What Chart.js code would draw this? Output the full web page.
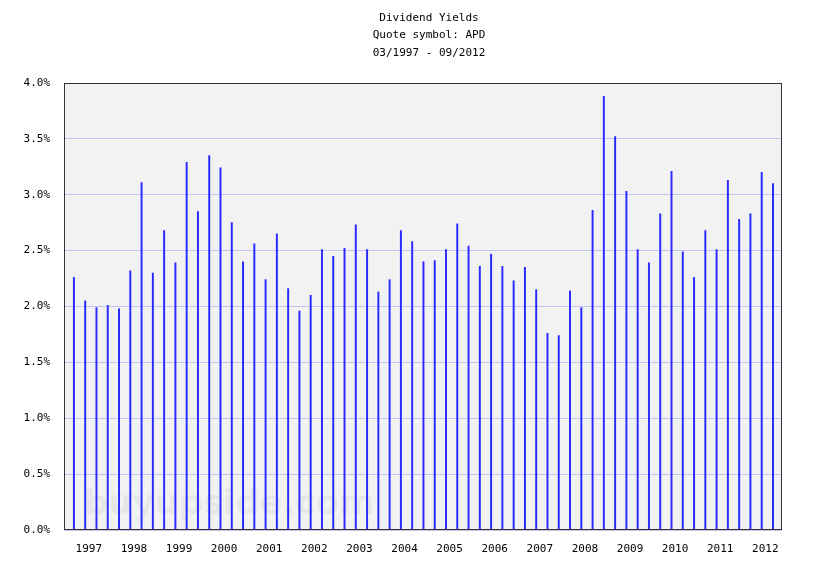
<!DOCTYPE html><html><head><meta charset="utf-8">
<script src="https://cdn.jsdelivr.net/npm/chart.js@4"></script>
<style>html,body{margin:0;background:#fff}#c{display:block}</style></head><body>
<canvas id="c" width="819" height="575"></canvas>
<script>
const startYear = 1997;
const yields = [2.26,2.05,1.99,2.01, 1.98,2.32,3.11,2.30, 2.68,2.39,3.29,2.85, 3.35,3.24,2.75,2.40,
 2.56,2.24,2.65,2.16, 1.96,2.10,2.51,2.45, 2.52,2.73,2.51,2.13, 2.24,2.68,2.58,2.40,
 2.41,2.51,2.74,2.54, 2.36,2.47,2.36,2.23, 2.35,2.15,1.76,1.74, 2.14,1.99,2.86,3.88,
 3.52,3.03,2.51,2.39, 2.83,3.21,2.49,2.26, 2.68,2.51,3.13,2.78, 2.83,3.20,3.10];
const yearLabels = ['1997','1998','1999','2000','2001','2002','2003','2004','2005','2006','2007','2008','2009','2010','2011','2012'];
const titleLines = ['Dividend Yields','Quote symbol: APD','03/1997 - 09/2012'];
const pts = yields.map((v,i)=>({x:startYear+i*0.25,y:v}));
const mono = 'DejaVu Sans Mono';
const bgPlugin = {id:'bg',beforeDraw(ch){const {ctx,chartArea:a}=ch;ctx.save();ctx.fillStyle='#f2f2f2';ctx.fillRect(a.left,a.top,a.right-a.left,a.bottom-a.top);
 ctx.font='bold 34px "DejaVu Sans"';ctx.fillStyle='rgba(205,205,205,0.3)';ctx.textBaseline='middle';ctx.fillText('buyupside.com',84,505);
 ctx.font='11px "'+mono+'"';ctx.fillStyle='#000';ctx.textAlign='center';ctx.textBaseline='middle';
 titleLines.forEach((t,i)=>ctx.fillText(t,429,18+i*17.5));ctx.restore();},
 afterDraw(ch){const {ctx,chartArea:a}=ch;ctx.save();ctx.strokeStyle='#333';ctx.lineWidth=1;ctx.strokeRect(a.left+0.5,a.top+0.5,a.right-a.left-1,a.bottom-a.top-1);ctx.restore();}};
new Chart(document.getElementById('c'),{type:'bar',
 data:{datasets:[{data:pts,backgroundColor:'#2a2aff',barThickness:1.3,grouped:false}]},
 options:{responsive:false,animation:false,events:[],
  layout:{padding:{left:0,right:37,top:83,bottom:0}},
  plugins:{legend:{display:false},tooltip:{enabled:false}},
  scales:{
   x:{type:'linear',min:1996.78,max:2012.70,offset:false,
     afterBuildTicks(ax){ax.ticks=yearLabels.map(y=>({value:+y+0.33}));},
     afterFit(ax){ax.height=45;},
     ticks:{callback:(v)=>String(Math.floor(v)),font:{family:mono,size:11},color:'#000',maxRotation:0,autoSkip:false,padding:5},
     grid:{display:false},border:{display:false}},
   y:{min:0,max:4,afterFit(ax){ax.width=64;},
     ticks:{stepSize:0.5,callback:v=>v.toFixed(1)+'%',font:{family:mono,size:11},color:'#000',padding:14},
     grid:{color:'#c4c4f0',lineWidth:1,drawTicks:false},border:{display:false}}}},
 plugins:[bgPlugin]});
</script></body></html>
